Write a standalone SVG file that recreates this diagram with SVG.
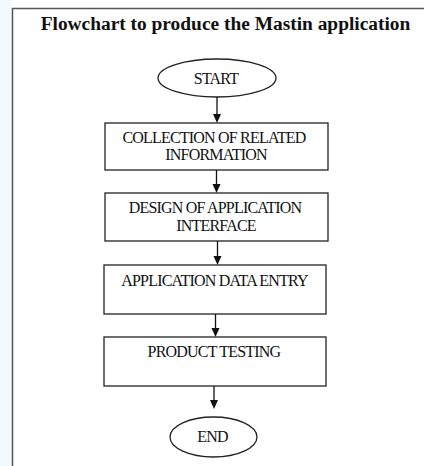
<svg xmlns="http://www.w3.org/2000/svg" width="424" height="466" viewBox="0 0 424 466">
<style>
.t{font-family:"Liberation Serif","Times New Roman",serif;font-size:16px;fill:#111;text-anchor:middle;letter-spacing:-0.8px}
.title{font-family:"Liberation Serif","Times New Roman",serif;font-size:19.4px;font-weight:bold;fill:#111;text-anchor:middle}
.n{fill:#fff;stroke:#222;stroke-width:1.3}
.c{stroke:#111;stroke-width:1.3;fill:none}
.h{fill:#111}
</style>
<rect x="0" y="0" width="424" height="466" fill="#fff"/>
<rect x="0" y="0" width="12" height="466" fill="#f4f9fd"/>
<path d="M12.5 466 V8.5 H424" fill="none" stroke="#555" stroke-width="1.5"/>
<text class="title" x="225.5" y="30">Flowchart to produce the Mastin application</text>
<g id="start"><ellipse class="n" cx="217" cy="78" rx="59" ry="19"/><text class="t" x="216" y="84">START</text></g>
<g id="collect"><rect class="n" x="105" y="123" width="223" height="47"/><text class="t" x="214" y="143">COLLECTION OF RELATED</text><text class="t" x="216" y="160">INFORMATION</text></g>
<g id="design"><rect class="n" x="105" y="193" width="223" height="48"/><text class="t" x="215" y="213">DESIGN OF APPLICATION</text><text class="t" x="216" y="231">INTERFACE</text></g>
<g id="entry"><rect class="n" x="104" y="265" width="222" height="49"/><text class="t" x="214.5" y="286">APPLICATION DATA ENTRY</text></g>
<g id="testing"><rect class="n" x="104" y="337" width="222" height="49"/><text class="t" x="214" y="357">PRODUCT TESTING</text></g>
<g id="end"><ellipse class="n" cx="213.5" cy="437" rx="43.5" ry="20"/><text class="t" x="212.5" y="442">END</text></g>
<g id="connectors">
<line class="c" x1="217" y1="97" x2="217" y2="115"/><polygon class="h" points="213,114 221,114 217,123"/>
<line class="c" x1="216.5" y1="170" x2="216.5" y2="185"/><polygon class="h" points="212.5,184 220.5,184 216.5,193"/>
<line class="c" x1="217.5" y1="241" x2="217.5" y2="257"/><polygon class="h" points="213.5,256 221.5,256 217.5,265"/>
<line class="c" x1="215.5" y1="314" x2="215.5" y2="329"/><polygon class="h" points="211.5,328 219.5,328 215.5,337"/>
<line class="c" x1="214" y1="386" x2="214" y2="401"/><polygon class="h" points="210,400 218,400 214,409"/>
</g>
</svg>
